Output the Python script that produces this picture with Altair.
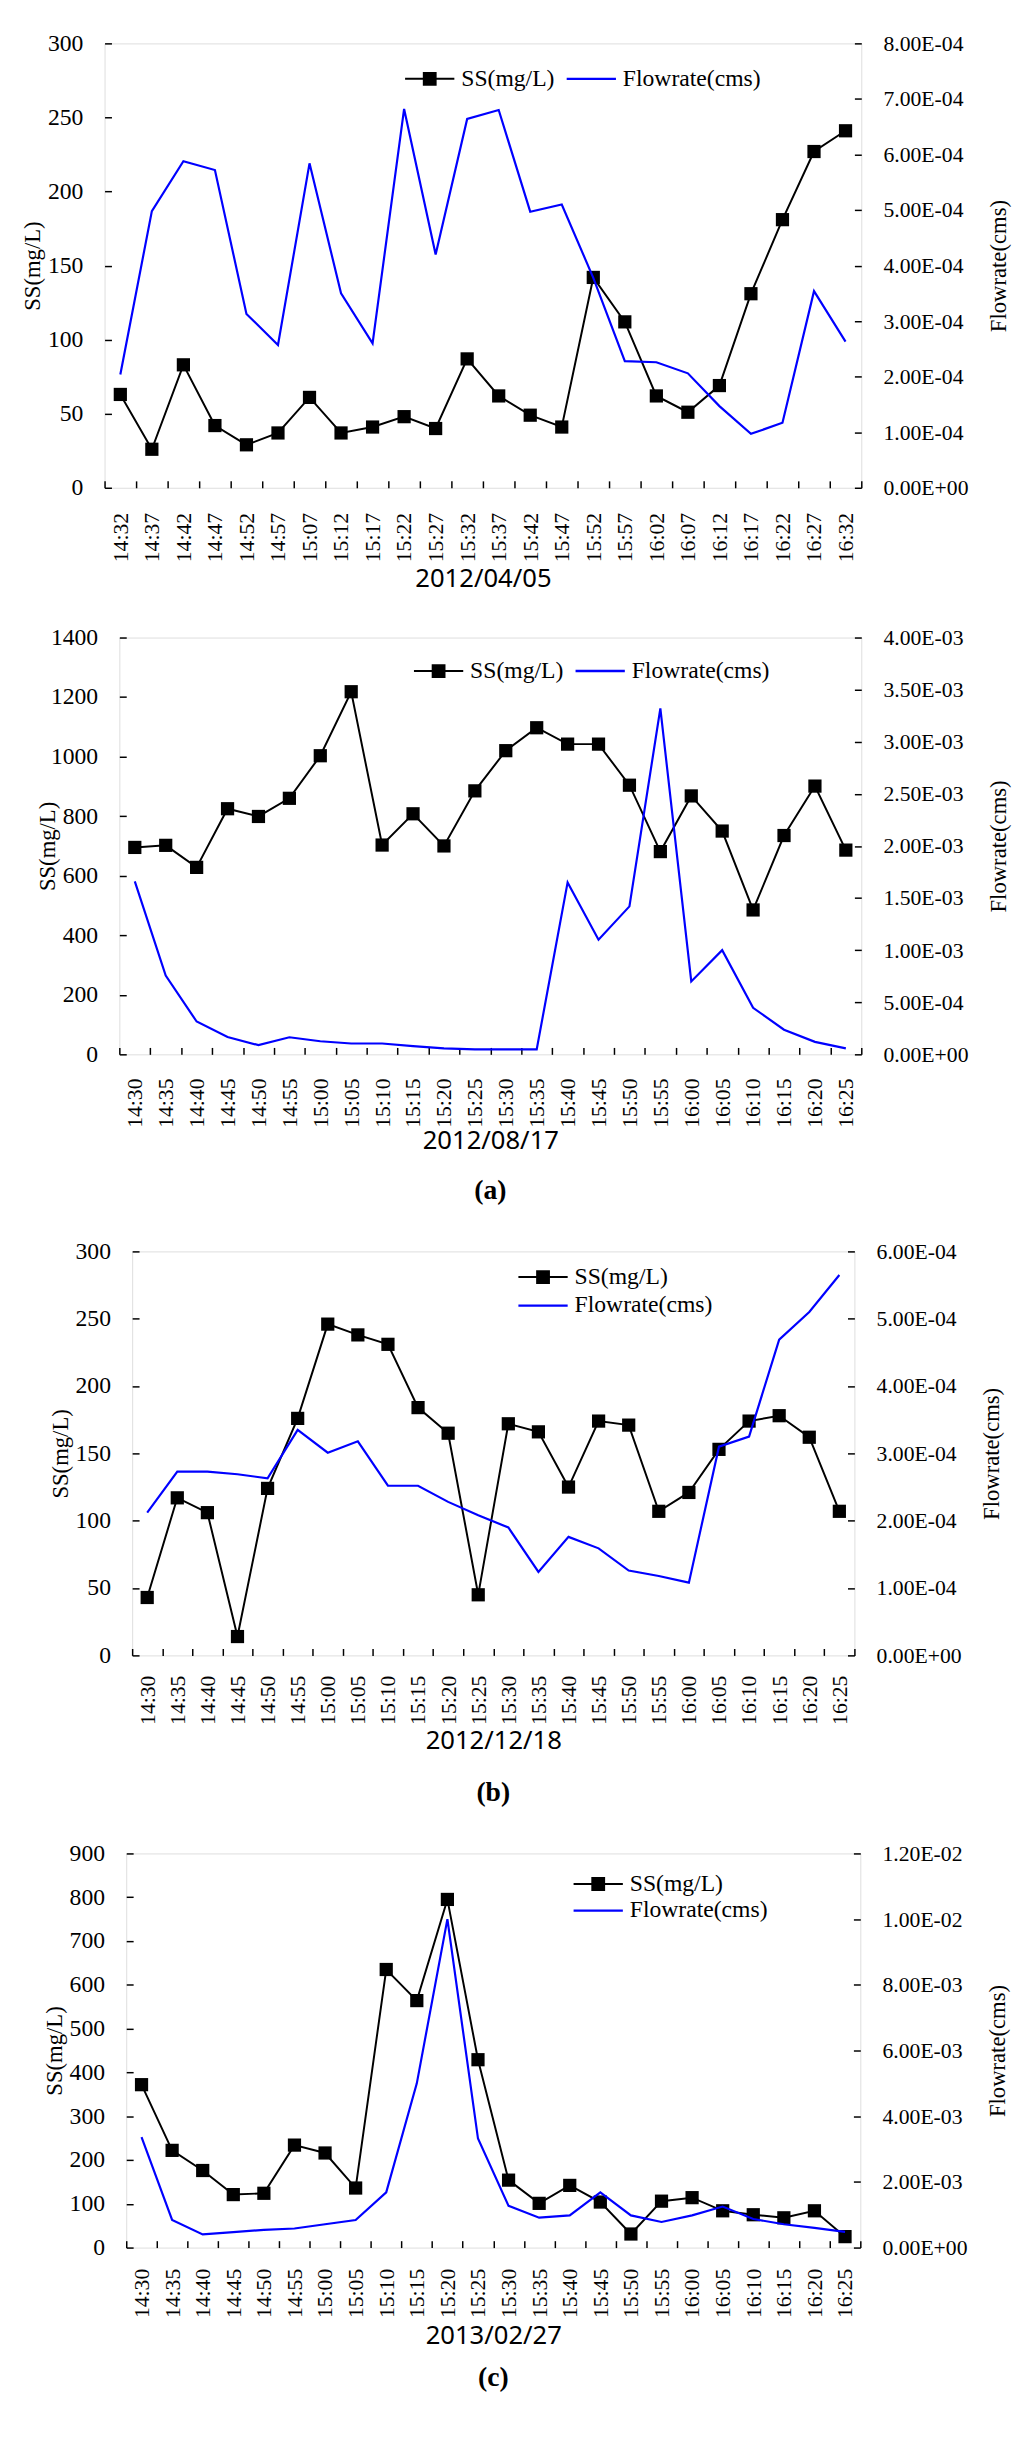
import altair as alt
import pandas as pd

# ---------------- data ----------------
times_1 = ["14:32", "14:37", "14:42", "14:47", "14:52", "14:57", "15:07", "15:12",
           "15:17", "15:22", "15:27", "15:32", "15:37", "15:42", "15:47", "15:52",
           "15:57", "16:02", "16:07", "16:12", "16:17", "16:22", "16:27", "16:32"]
times_2 = ["14:30", "14:35", "14:40", "14:45", "14:50", "14:55", "15:00", "15:05",
           "15:10", "15:15", "15:20", "15:25", "15:30", "15:35", "15:40", "15:45",
           "15:50", "15:55", "16:00", "16:05", "16:10", "16:15", "16:20", "16:25"]

ss_1 = [63, 26, 83, 42, 29, 37, 61, 37, 41, 48, 40, 87, 62, 49, 41, 142, 112, 62,
        51, 69, 131, 181, 227, 241]
flow_1 = [2.04e-4, 4.98e-4, 5.88e-4, 5.72e-4, 3.13e-4, 2.57e-4, 5.84e-4, 3.50e-4,
          2.60e-4, 6.82e-4, 4.20e-4, 6.64e-4, 6.80e-4, 4.97e-4, 5.10e-4, 3.78e-4,
          2.28e-4, 2.26e-4, 2.06e-4, 1.47e-4, 0.97e-4, 1.17e-4, 3.54e-4, 2.63e-4]

ss_2 = [695, 702, 628, 825, 799, 860, 1003, 1218, 703, 808, 700, 885, 1020, 1097,
        1042, 1042, 904, 681, 868, 750, 485, 735, 901, 686]
flow_2 = [1.66e-3, 0.756e-3, 0.315e-3, 0.167e-3, 0.088e-3, 0.164e-3, 0.126e-3,
          0.104e-3, 0.104e-3, 0.079e-3, 0.057e-3, 0.047e-3, 0.047e-3, 0.047e-3,
          1.65e-3, 1.10e-3, 1.42e-3, 3.32e-3, 0.70e-3, 1.00e-3, 0.447e-3, 0.236e-3,
          0.12e-3, 0.057e-3]

ss_3 = [43, 117, 106, 14, 124, 176, 246, 238, 231, 184, 165, 45, 172, 166, 125, 174,
        171, 107, 121, 153, 174, 178, 162, 107]
flow_3 = [2.12e-4, 2.73e-4, 2.73e-4, 2.69e-4, 2.63e-4, 3.35e-4, 3.01e-4, 3.18e-4,
          2.52e-4, 2.52e-4, 2.28e-4, 2.08e-4, 1.90e-4, 1.24e-4, 1.76e-4, 1.59e-4,
          1.26e-4, 1.18e-4, 1.08e-4, 3.10e-4, 3.25e-4, 4.69e-4, 5.10e-4, 5.65e-4]

ss_4 = [372, 222, 176, 121, 124, 234, 216, 136, 635, 564, 795, 429, 154, 101, 142,
        104, 31, 106, 114, 84, 75, 68, 84, 25]
flow_4 = [3.36e-3, 0.84e-3, 0.40e-3, 0.47e-3, 0.54e-3, 0.58e-3, 0.71e-3, 0.84e-3,
          1.68e-3, 5.0e-3, 10.0e-3, 3.32e-3, 1.27e-3, 0.91e-3, 0.98e-3, 1.68e-3,
          0.98e-3, 0.78e-3, 0.98e-3, 1.25e-3, 0.87e-3, 0.71e-3, 0.60e-3, 0.48e-3]

ss_ticks_1 = [0, 50, 100, 150, 200, 250, 300]
ss_ticks_2 = [0, 200, 400, 600, 800, 1000, 1200, 1400]
ss_ticks_3 = [0, 50, 100, 150, 200, 250, 300]
ss_ticks_4 = [0, 100, 200, 300, 400, 500, 600, 700, 800, 900]
fl_ticks_1 = [0, 1e-4, 2e-4, 3e-4, 4e-4, 5e-4, 6e-4, 7e-4, 8e-4]
fl_ticks_2 = [0, 5e-4, 1e-3, 1.5e-3, 2e-3, 2.5e-3, 3e-3, 3.5e-3, 4e-3]
fl_ticks_3 = [0, 1e-4, 2e-4, 3e-4, 4e-4, 5e-4, 6e-4]
fl_ticks_4 = [0, 2e-3, 4e-3, 6e-3, 8e-3, 1e-2, 1.2e-2]

dates = ["2012/04/05", "2012/08/17", "2012/12/18", "2013/02/27"]
tags = ["(a)", "(b)", "(c)"]
series = ["SS(mg/L)", "Flowrate(cms)"]

# ---------------- style ----------------
SERIF = "Liberation Serif"
SANS = "Noto Sans"
BLUE = "#0000ff"
PATH_SS = "M-1,-0.1L4,-0.1L4,0.1L-1,0.1Z M0.8,-0.7L2.2,-0.7L2.2,0.7L0.8,0.7Z"
PATH_FL = "M-1,-0.12L4,-0.12L4,0.12L-1,0.12Z"
FMT = ("slice(format(datum.value,'.2e'),0,4)+'E'+slice(format(datum.value,'.2e'),5,6)"
       "+'0'+slice(format(datum.value,'.2e'),6)")


def panel(times, ss, flow, ss_ticks, fl_ticks, date, w, h, xpad, date_pad,
          leg_x, leg_y, direction, row_pad, col_pad, tag=None, tag_off=0):
    df = pd.DataFrame({"t": times, "ss": ss, "flow": flow})
    xaxis = alt.Axis(title=date, labelAngle=270, labelFont=SERIF, labelFontSize=22,
                     labelPadding=xpad, labelOverlap=False, labelColor="black",
                     tickBand="extent", tickSize=7, tickWidth=1.5, tickColor="black",
                     offset=-7, domain=False, titleFont=SANS, titleFontSize=26,
                     titleFontWeight="normal", titleColor="black", titlePadding=date_pad)
    x = alt.X("t:N", sort=times, bandPosition=0.5,
              scale=alt.Scale(type="band", paddingInner=0, paddingOuter=0), axis=xaxis)
    yl = alt.Y("ss:Q",
               scale=alt.Scale(domain=[ss_ticks[0], ss_ticks[-1]], nice=False),
               axis=alt.Axis(orient="left", values=ss_ticks, format="d", title="SS(mg/L)",
                             labelFont=SERIF, labelFontSize=24, labelColor="black",
                             labelPadding=22, labelOverlap=False, tickSize=7,
                             tickWidth=1.5, tickColor="black", offset=-7, domain=False,
                             grid=False, minExtent=68, maxExtent=68, titlePadding=0,
                             titleFont=SERIF, titleFontSize=23, titleFontWeight="normal",
                             titleColor="black"))
    yr = alt.Y("flow:Q",
               scale=alt.Scale(domain=[fl_ticks[0], fl_ticks[-1]], nice=False),
               axis=alt.Axis(orient="right", values=fl_ticks, labelExpr=FMT,
                             title="Flowrate(cms)", labelFont=SERIF, labelFontSize=22,
                             labelColor="black", labelPadding=22, labelOverlap=False,
                             tickSize=7, tickWidth=1.5, tickColor="black", offset=-7,
                             domain=False, grid=False, titleAngle=270,
                             titleBaseline="top", titlePadding=20, titleFont=SERIF,
                             titleFontSize=23, titleFontWeight="normal",
                             titleColor="black"))
    legend = alt.Legend(title=None, orient="none", legendX=leg_x, legendY=leg_y,
                        direction=direction, labelFont=SERIF, labelFontSize=24,
                        labelColor="black", labelLimit=0, symbolSize=400,
                        symbolStrokeWidth=0, labelOffset=35, rowPadding=row_pad,
                        columnPadding=col_pad)
    base = alt.Chart(df)
    flow_line = base.mark_line(color=BLUE, strokeWidth=2.2).encode(x=x, y=yr)
    ss_line = base.mark_line(
        color="black", strokeWidth=2,
        point=alt.OverlayMarkDef(shape="square", size=180, filled=True,
                                 color="black", opacity=1)
    ).encode(x=x, y=yl)
    leg = base.transform_filter("false").mark_point(
        filled=True, opacity=1, strokeWidth=0
    ).encode(
        color=alt.Color("series:N", scale=alt.Scale(domain=series, range=["black", BLUE]),
                        legend=legend),
        shape=alt.Shape("series:N", scale=alt.Scale(domain=series, range=[PATH_SS, PATH_FL]),
                        legend=legend),
    )
    props = dict(width=w, height=h)
    if tag:
        props["title"] = alt.TitleParams(tag, orient="bottom", font=SERIF, fontSize=28,
                                         fontWeight="bold", color="black", offset=tag_off)
    return (alt.layer(ss_line, flow_line, leg)
            .resolve_scale(y="independent")
            .properties(**props))


def spacer(wd):
    return alt.Chart(pd.DataFrame({"v": [0]})).mark_point(opacity=0).encode(
        x=alt.value(0), y=alt.value(0)
    ).properties(width=wd, height=10, view=alt.ViewBackground(stroke="transparent"))


p1 = panel(times_1, ss_1, flow_1, ss_ticks_1, fl_ticks_1, dates[0], 768, 451,
           25, 4, 303, 24, "horizontal", 2, 10)
p2 = panel(times_2, ss_2, flow_2, ss_ticks_2, fl_ticks_2, dates[1], 753, 423,
           24, 0, 297, 22, "horizontal", 2, 10, tags[0], 25)
p3 = panel(times_2, ss_3, flow_3, ss_ticks_3, fl_ticks_3, dates[2], 733, 410,
           20, 3, 390, 14, "vertical", 5, 10, tags[1], 27)
p4 = panel(times_2, ss_4, flow_4, ss_ticks_4, fl_ticks_4, dates[3], 745, 400,
           21, 5, 452, 19, "vertical", 3, 10, tags[2], 16)

rows = [alt.hconcat(spacer(s), p, spacing=0)
        .resolve_scale(color="independent", shape="independent")
        .resolve_legend(color="independent", shape="independent")
        for s, p in [(1, p1), (18, p2), (31, p3), (25, p4)]]

chart = (alt.vconcat(*rows, spacing=33)
         .resolve_scale(color="independent", shape="independent")
         .resolve_legend(color="independent", shape="independent")
         .configure_view(stroke="black", strokeWidth=3.5)
         .configure(background="white"))

chart.save("out.html", embed_options={"renderer": "svg", "actions": False})
